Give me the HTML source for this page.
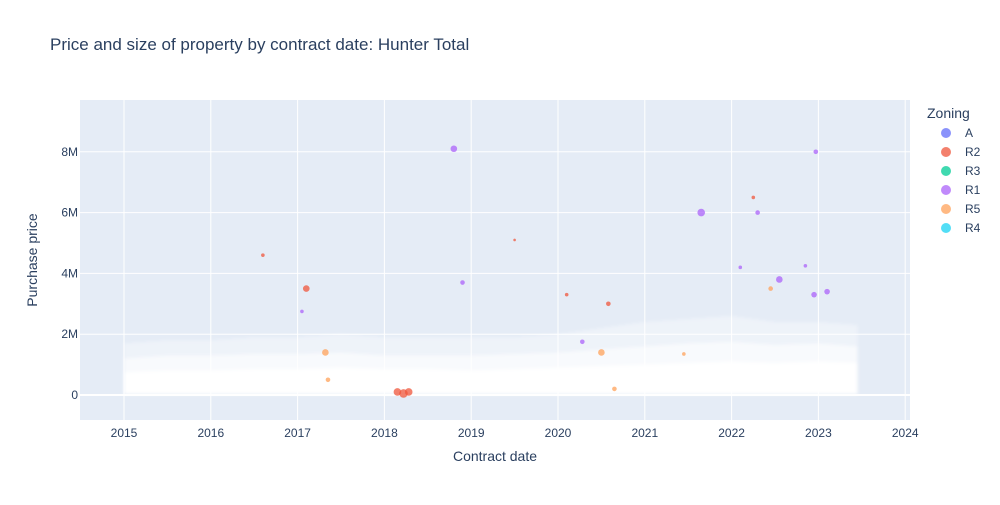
<!DOCTYPE html>
<html><head><meta charset="utf-8"><style>
body{margin:0;background:#fff;font-family:"Liberation Sans",Arial,sans-serif}
svg text{font-family:"Liberation Sans",Arial,sans-serif;fill:#2a3f5f}
</style></head><body>
<svg id="chart" width="1000" height="500" viewBox="0 0 1000 500">
<defs><filter id="blur" x="-5%" y="-20%" width="110%" height="140%"><feGaussianBlur stdDeviation="1.5"/></filter></defs>
<text x="50" y="50" font-size="17">Price and size of property by contract date: Hunter Total</text>
<rect x="80" y="100" width="830" height="320" fill="#e5ecf6"/>
<g id="grid"></g><g id="cloud" filter="url(#blur)"></g><g id="points"></g><g id="axes"></g>
<text x="495" y="461" font-size="14" text-anchor="middle">Contract date</text>
<text transform="translate(37,260) rotate(-90)" font-size="14" text-anchor="middle">Purchase price</text>
<g id="legend"></g>
</svg>
<script>
const xTicks=[2015,2016,2017,2018,2019,2020,2021,2022,2023,2024];
const yTicks=[0,2,4,6,8];
const yTickLabels=["0","2M","4M","6M","8M"];
// density cloud envelope (millions) per half-year
const cloudDates=[2015.0,2015.5,2016.0,2016.5,2017.0,2017.5,2018.0,2018.5,2019.0,2019.5,2020.0,2020.5,2021.0,2021.5,2022.0,2022.5,2023.0,2023.45];
const cloudCoreTop=[0.75,0.8,0.8,0.85,0.85,0.9,0.85,0.85,0.8,0.85,0.9,0.95,1.0,1.05,1.1,1.05,1.1,1.05];
const cloudMidTop=[1.2,1.3,1.3,1.35,1.35,1.4,1.3,1.3,1.3,1.35,1.4,1.5,1.6,1.7,1.75,1.65,1.7,1.6];
const cloudLightTop=[1.7,1.8,1.8,1.9,1.9,2.0,1.9,1.9,1.9,1.9,2.0,2.2,2.4,2.5,2.6,2.4,2.4,2.3];
const ptDates=[2018.8,2021.65,2022.3,2022.55,2022.95,2023.1,2022.97,2017.1,2017.32,2020.5,2020.58,2018.15,2018.22,2018.28,2022.45,2020.28,2018.9,2017.35,2022.25,2016.6,2020.1,2022.1,2019.5,2017.05,2021.45,2022.85,2020.65];
const ptPrices=[8.1,6.0,6.0,3.8,3.3,3.4,8.0,3.5,1.4,1.4,3.0,0.1,0.05,0.1,3.5,1.75,3.7,0.5,6.5,4.6,3.3,4.2,5.1,2.75,1.35,4.25,0.2];
const ptZones=["R1","R1","R1","R1","R1","R1","R1","R2","R5","R5","R2","R2","R2","R2","R5","R1","R1","R5","R2","R2","R2","R1","R2","R1","R5","R1","R5"];
const ptSizes=[5,6,3,5,4,4,3,5,5,5,3,6,7,6,3,3,3,3,2,2,2,2,1,2,2,2,3];
const zoneNames=["A","R2","R3","R1","R5","R4"];
const zoneColors={A:"#636efa",R2:"#EF553B",R3:"#00cc96",R1:"#ab63fa",R5:"#FFA15A",R4:"#19d3f3"};
const NS="http://www.w3.org/2000/svg";
const X=d=>124+(d-2015)*86.8, Y=v=>395-v*30.4;
function mk(t,a,p){const e=document.createElementNS(NS,t);for(const k in a)e.setAttribute(k,a[k]);p.appendChild(e);return e;}
const grid=document.getElementById('grid'),axes=document.getElementById('axes');
xTicks.forEach(t=>{const l=mk('line',{x1:X(t),x2:X(t),y1:100,y2:420,stroke:'#fff','stroke-width':1},grid);


const tx=mk('text',{x:X(t),y:437,'font-size':12,'text-anchor':'middle'},axes);tx.textContent=t;

});
yTicks.forEach((t,i)=>{const l=mk('line',{x1:80,x2:910,y1:Y(t),y2:Y(t),stroke:'#fff','stroke-width':t===0?2:1},grid);


const tx=mk('text',{x:78,y:Y(t)+4,'font-size':12,'text-anchor':'end'},axes);tx.textContent=yTickLabels[i];

});
const cloud=document.getElementById('cloud');
function band(top,op,name){let d='M'+X(cloudDates[0])+','+Y(0.03);
cloudDates.forEach((c,i)=>d+=' L'+X(c)+','+Y(top[i]));
d+=' L'+X(cloudDates[cloudDates.length-1])+','+Y(0.03)+' Z';
const p=mk('path',{d:d,fill:'#fff','fill-opacity':op},cloud);

}
band(cloudLightTop,0.35,'cloud-sparse');
band(cloudMidTop,0.6,'cloud-medium');
band(cloudCoreTop,1,'cloud-dense');
const pts=document.getElementById('points');
ptDates.forEach((d,i)=>{const c=mk('circle',{cx:X(d),cy:Y(ptPrices[i]),r:ptSizes[i]/2+0.8,fill:zoneColors[ptZones[i]],'fill-opacity':0.75},pts);

});
const lg=document.getElementById('legend');
const lt=mk('text',{x:927,y:118,'font-size':14},lg);lt.textContent='Zoning';


zoneNames.forEach((z,i)=>{const y=133+i*19;
const g=mk('g',{},lg);


mk('circle',{cx:946,cy:y,r:5,fill:zoneColors[z],'fill-opacity':0.75},g);
const t=mk('text',{x:965,y:y+4,'font-size':12},g);t.textContent=z;});
</script>
</body></html>
